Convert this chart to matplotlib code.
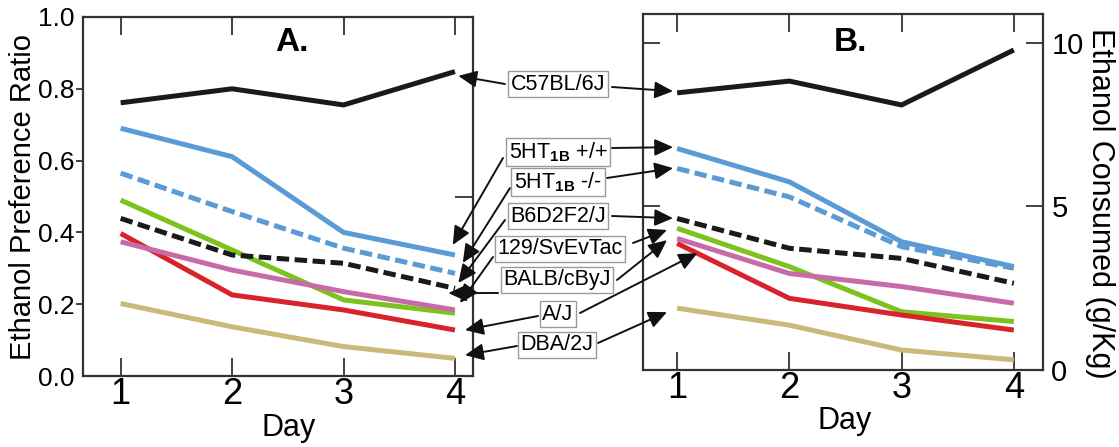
import matplotlib
matplotlib.use("Agg")
import matplotlib.pyplot as plt
from matplotlib.ticker import FixedLocator

plt.rcParams['font.family'] = ['Liberation Sans', 'DejaVu Sans']
plt.rcParams['mathtext.fontset'] = 'custom'
plt.rcParams['mathtext.rm'] = 'Liberation Sans'
plt.rcParams['mathtext.bf'] = 'Liberation Sans:bold'

days = [1, 2, 3, 4]

strains = ['C57BL/6J', r'5HT$_{\mathbf{1B}}$ +/+', r'5HT$_{\mathbf{1B}}$ -/-', 'B6D2F2/J',
           '129/SvEvTac', 'BALB/cByJ', 'A/J', 'DBA/2J']

# panel A: ethanol preference ratio
pref_c57 = [0.761, 0.800, 0.755, 0.848]
pref_5ht_wt = [0.690, 0.611, 0.400, 0.337]
pref_5ht_ko = [0.565, 0.458, 0.356, 0.286]
pref_b6d2 = [0.439, 0.337, 0.314, 0.244]
pref_129 = [0.490, 0.351, 0.212, 0.175]
pref_balb = [0.374, 0.295, 0.235, 0.184]
pref_aj = [0.397, 0.226, 0.184, 0.128]
pref_dba = [0.202, 0.137, 0.082, 0.049]

# panel B: ethanol consumed (g/kg)
cons_c57 = [8.47, 8.83, 8.10, 9.78]
cons_5ht_wt = [6.77, 5.75, 3.92, 3.16]
cons_5ht_ko = [6.16, 5.29, 3.77, 3.11]
cons_b6d2 = [4.63, 3.72, 3.41, 2.65]
cons_129 = [4.33, 3.16, 1.78, 1.48]
cons_balb = [4.02, 2.95, 2.55, 2.04]
cons_aj = [3.87, 2.19, 1.68, 1.22]
cons_dba = [1.89, 1.37, 0.61, 0.31]

pref = [pref_c57, pref_5ht_wt, pref_5ht_ko, pref_b6d2, pref_129, pref_balb, pref_aj, pref_dba]
cons = [cons_c57, cons_5ht_wt, cons_5ht_ko, cons_b6d2, cons_129, cons_balb, cons_aj, cons_dba]

colors = ['#1a1a1a', '#5b9bd5', '#5b9bd5', '#1a1a1a', '#7dc21e', '#c86aa8', '#d8232a', '#c9b97a']
dashed = [False, False, True, True, False, False, False, False]
# draw order (back to front)
order = [7, 0, 1, 2, 4, 6, 5, 3]

W, H = 1119, 447
fig = plt.figure(figsize=(W / 100, H / 100), dpi=100)

def px(x, y):
    return (x / W, 1 - y / H)

ax_a = fig.add_axes([83 / W, 1 - 376 / H, 390 / W, 359 / H])
ax_b = fig.add_axes([643 / W, 1 - 370 / H, 400 / W, 356 / H])

for ax, vals in ((ax_a, pref), (ax_b, cons)):
    for i in order:
        ls = (0, (2.5, 1.1)) if dashed[i] else '-'
        ax.plot(days, vals[i], color=colors[i], lw=3.6, ls=ls, solid_capstyle='butt')
    for s in ax.spines.values():
        s.set_linewidth(1.6)
        s.set_color('#333333')
    ax.set_xticks(days)
    ax.tick_params(axis='x', which='major', direction='in', top=True, bottom=True,
                   length=13, width=1.3, color='#333333', labelsize=26, pad=1)

# panel A axes
ax_a.set_xlim(0.662, 4.162)
ax_a.set_ylim(0, 1.0)
ax_a.set_yticks([0.0, 0.2, 0.4, 0.6, 0.8, 1.0])
ax_a.set_yticklabels(['0.0', '0.2', '0.4', '0.6', '0.8', '1.0'])
ax_a.tick_params(axis='y', which='major', direction='out', length=5, width=1.3,
                 color='#333333', labelsize=19, pad=1)
ax_a.yaxis.get_major_ticks()[0].tick1line.set_visible(False)
ax_a.yaxis.get_major_ticks()[-1].tick1line.set_visible(False)
ax_a.yaxis.set_minor_locator(FixedLocator([0.5]))
ax_a.tick_params(axis='y', which='minor', left=False, right=True, direction='in',
                 length=13, width=1.3, color='#333333')
ax_a.set_ylabel('Ethanol Preference Ratio', fontsize=21)
ax_a.yaxis.label.set_va('center')
ax_a.yaxis.set_label_coords(-0.154, 0.5)
ax_a.set_xlabel('Day', fontsize=22)
ax_a.xaxis.label.set_va('center')
ax_a.xaxis.set_label_coords(0.528, -0.145)
ax_a.text(0.536, 0.930, 'A.', transform=ax_a.transAxes, fontsize=24,
          fontweight='bold', ha='center', va='center')

# panel B axes
ax_b.set_xlim(0.696, 4.26)
ax_b.set_ylim(0, 10.88)
ax_b.set_yticks([0, 5, 10])
ax_b.tick_params(axis='y', which='major', direction='in', left=True, right=True,
                 labelleft=False, labelright=True, length=12, width=1.3,
                 color='#333333', labelsize=21, pad=6)
ax_b.yaxis.get_major_ticks()[0].tick1line.set_visible(False)
ax_b.yaxis.get_major_ticks()[0].tick2line.set_visible(False)
ax_b.yaxis.set_label_position('right')
ax_b.set_ylabel('Ethanol Consumed (g/Kg)', fontsize=22, rotation=270)
ax_b.yaxis.label.set_va('center')
ax_b.yaxis.set_label_coords(1.1425, 0.469)
ax_b.set_xlabel('Day', fontsize=22)
ax_b.xaxis.label.set_va('center')
ax_b.xaxis.set_label_coords(0.505, -0.143)
ax_b.text(0.5175, 0.921, 'B.', transform=ax_b.transAxes, fontsize=24,
          fontweight='bold', ha='center', va='center')

# strain labels in the middle with arrows to both panels
label_pos = [(558, 84), (558, 152), (558, 182), (558, 216),
             (560, 249), (557, 280), (558, 314), (557, 345)]
start_a = [(505, 84), (503, 158), (510, 188), (505, 220),
           (493, 257), (498, 293), (538, 316), (517, 346)]
tip_a = [(4.03, 0.836), (3.98, 0.365), (4.07, 0.315), (4.03, 0.259),
         (4.045, 0.203), (3.94, 0.231), (4.09, 0.128), (4.09, 0.058)]
start_b = [(612, 87), (612, 148), (607, 178), (612, 216),
           (633, 243), (617, 280), (580, 313), (598, 343)]
tip_b = [(0.964, 8.52), (0.964, 6.81), (0.964, 6.17), (0.964, 4.64),
         (0.91, 4.28), (0.91, 3.97), (1.18, 3.57), (0.91, 1.77)]

arrow = dict(arrowstyle='-|>,head_length=0.7,head_width=0.32', color='#111111',
             lw=1.4, shrinkA=0, shrinkB=0, mutation_scale=16)

for i, name in enumerate(strains):
    for start, tip, ax in ((start_a[i], tip_a[i], ax_a), (start_b[i], tip_b[i], ax_b)):
        ax.annotate('', xy=tip, xycoords='data', xytext=px(*start),
                    textcoords='figure fraction', arrowprops=arrow,
                    annotation_clip=False)
    fig.text(*px(*label_pos[i]), name, fontsize=15.5, ha='center', va='center',
             bbox=dict(boxstyle='square,pad=0.12', fc='white', ec='#9a9a9a', lw=1.0),
             zorder=10)

fig.savefig('out.png', dpi=100)
